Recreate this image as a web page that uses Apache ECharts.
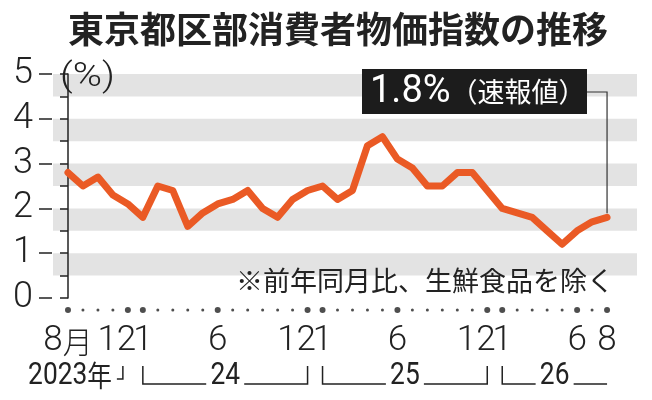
<!DOCTYPE html>
<html lang="ja">
<head>
	<meta charset="UTF-8">
	<title>東京都区部消費者物価指数の推移</title>
	<script src="https://cdn.jsdelivr.net/npm/echarts@6/dist/echarts.min.js"></script>
	<style>
		html, body { margin: 0; padding: 0; background: #fff; }
	</style>
</head>
<body>
	<div id="main" style="width: 652px; height: 400px;"></div>
	<script>
		// 2023年8月〜2026年8月 前年同月比(%) 生鮮食品を除く
		var cpi = [2.8, 2.5, 2.7, 2.3, 2.1, 1.8, 2.5, 2.4, 1.6, 1.9, 2.1, 2.2, 2.4,
			2.0, 1.8, 2.2, 2.4, 2.5, 2.2, 2.4, 3.4, 3.6, 3.1, 2.9, 2.5, 2.5,
			2.8, 2.8, 2.4, 2.0, 1.9, 1.8, 1.5, 1.2, 1.5, 1.7, 1.8]

		// 目盛りラベル (月のインデックス → 表示)
		var tickIndex = [0, 4, 5, 10, 16, 17, 22, 28, 29, 34, 36]
		var tickText = ['8月', '12', '1', '6', '12', '1', '6', '12', '1', '6', '8']

		// 年の区切り
		var yearText = ['24', '25', '26']
		var yearStart = [5, 17, 29]
		var yearEnd = [16, 28, 36]
		var yearClosed = [true, true, false]

		var firstYear = '2023'
		var latestText = '1.8%'
		var latestNote = '（速報値）'
		var footnote = '※前年同月比、生鮮食品を除く'

		var INK = '#222'
		var LINE = '#EA5A25'
		var numFont = 'Roboto, "Noto Sans", sans-serif'
		var jaFont = '"Noto Sans CJK JP", sans-serif'

		var myChart = echarts.init(document.getElementById('main'))

		var option = {
			animation: false,
			grid: [
				{ left: 53, right: 15, top: 74, bottom: 102 },
				{ left: 53, right: 15, top: 309, height: 2 }
			],
			xAxis: [
				{ type: 'value', gridIndex: 0, min: -1, max: 38, show: false },
				{
					type: 'value', gridIndex: 1, min: -1, max: 38, interval: 1,
					axisLine: { show: false },
					axisTick: { show: false },
					splitLine: { show: false },
					axisLabel: {
						margin: 13,
						color: INK,
						fontSize: 35,
						fontFamily: numFont,
						fontWeight: 300,
						showMinLabel: true,
						showMaxLabel: true,
						formatter: function (v) {
							var k = tickIndex.indexOf(v)
							if (k < 0) return ''
							var t = tickText[k]
							if (t === '12') return '{l|12}'
							if (t === '8月') return '{m|8}{j|月}'
							return t
						},
						rich: {
							l: { fontSize: 35, fontFamily: numFont, fontWeight: 300, color: INK, padding: [0, 22, 0, 0] },
							m: { fontSize: 35, fontFamily: numFont, fontWeight: 300, color: INK },
							j: { fontSize: 30, fontFamily: jaFont, color: INK }
						}
					}
				}
			],
			yAxis: [
				{
					// 0.5刻みの縞と短い目盛り
					type: 'value', gridIndex: 0, min: 0, max: 5, interval: 0.5, offset: 1,
					axisLine: { show: true, lineStyle: { color: INK, width: 1.5 } },
					axisTick: { show: true, length: 8, lineStyle: { color: INK, width: 1.5 } },
					splitLine: { show: false },
					splitArea: { show: true, areaStyle: { color: ['rgba(0,0,0,0)', '#e3e3e3'] } },
					axisLabel: { show: false }
				},
				{
					// 1刻みのラベルと長い目盛り
					type: 'value', gridIndex: 0, min: 0, max: 5, interval: 1, offset: 1, position: 'left',
					axisLine: { show: false },
					axisTick: { show: true, length: 13, lineStyle: { color: INK, width: 1.5 } },
					splitLine: { show: false },
					axisLabel: {
						margin: 19,
						color: INK,
						fontSize: 36,
						fontFamily: numFont,
						fontWeight: 300
					}
				},
				{ type: 'value', gridIndex: 1, min: -1, max: 1, show: false }
			],
			series: [
				{
					type: 'line',
					xAxisIndex: 0,
					yAxisIndex: 0,
					data: cpi.map(function (v, i) { return [i, v] }),
					showSymbol: false,
					lineStyle: { color: LINE, width: 7, join: 'round', cap: 'round' }
				},
				{
					// 月ごとの点
					type: 'scatter',
					xAxisIndex: 1,
					yAxisIndex: 2,
					data: cpi.map(function (v, i) { return [i, 0] }),
					symbolSize: function (val) {
						return tickIndex.indexOf(val[0]) >= 0 ? 6 : 3
					},
					itemStyle: { color: INK },
					silent: true
				}
			]
		}
		myChart.setOption(option)

		// ピクセル位置を求めて注記を描く
		function px(i, v) {
			return myChart.convertToPixel({ gridIndex: 0 }, [i, v])
		}
		var last = cpi.length - 1
		var pLast = px(last, cpi[last])

		var graphics = [
			{
				type: 'text', x: 338, y: 29,
				style: { text: '東京都区部消費者物価指数の推移', fill: INK, font: 'bold 36px ' + jaFont, textAlign: 'center', textVerticalAlign: 'middle' }
			},
			{
				type: 'text', x: 60, y: 78, scaleX: 1.2,
				style: { text: '(%)', fill: INK, font: '300 33px ' + numFont, textVerticalAlign: 'middle' }
			},
			{
				type: 'text', x: 614, y: 281,
				style: { text: footnote, fill: INK, font: '27px ' + jaFont, textAlign: 'right', textVerticalAlign: 'middle' }
			},
			{
				type: 'rect', shape: { x: 362, y: 69, width: 225, height: 45 },
				style: { fill: '#1c1c1c' }
			},
			{
				type: 'text', x: 370, y: 92,
				style: {
					text: '{a|' + latestText + '}{b|' + latestNote + '}',
					textVerticalAlign: 'middle',
					rich: {
						a: { fill: '#fff', fontSize: 38, fontFamily: numFont, fontWeight: 400 },
						b: { fill: '#fff', fontSize: 27, fontFamily: jaFont }
					}
				}
			},
			{
				type: 'polyline',
				shape: { points: [[587, 92], [pLast[0], 92], [pLast[0], pLast[1] - 4]] },
				style: { stroke: '#333', lineWidth: 1.2, fill: null }
			},
			{
				type: 'text', x: 112, y: 376, scaleX: 0.85,
				style: {
					text: '{n|' + firstYear + '}{j|年}',
					textAlign: 'right', textVerticalAlign: 'middle',
					rich: {
						n: { fill: INK, fontSize: 31, fontFamily: numFont },
						j: { fill: INK, fontSize: 29, fontFamily: jaFont }
					}
				}
			}
		]

		// 2023年の閉じ
		var dec23 = px(4, 0)[0]
		graphics.push({
			type: 'polyline',
			shape: { points: [[dec23 - 11, 379], [dec23 - 5, 379], [dec23 - 5, 366]] },
			style: { stroke: INK, lineWidth: 1.5, fill: null }
		})

		for (var k = 0; k < yearText.length; k++) {
			var sx = px(yearStart[k], 0)[0]
			var ex = px(yearEnd[k], 0)[0]
			var cx = (sx + ex) / 2
			var yb = 384
			graphics.push({
				type: 'polyline',
				shape: { points: [[sx, 366], [sx, yb], [cx - 19, yb]] },
				style: { stroke: INK, lineWidth: 1.5, fill: null }
			})
			var right = [[cx + 19, yb], [ex, yb]]
			if (yearClosed[k]) right.push([ex, 366])
			graphics.push({
				type: 'polyline',
				shape: { points: right },
				style: { stroke: INK, lineWidth: 1.5, fill: null }
			})
			graphics.push({
				type: 'text', x: cx, y: 376, scaleX: 0.85,
				style: { text: yearText[k], fill: INK, font: '31px ' + numFont, textAlign: 'center', textVerticalAlign: 'middle' }
			})
		}

		myChart.setOption({ graphic: graphics })
	</script>
</body>
</html>
